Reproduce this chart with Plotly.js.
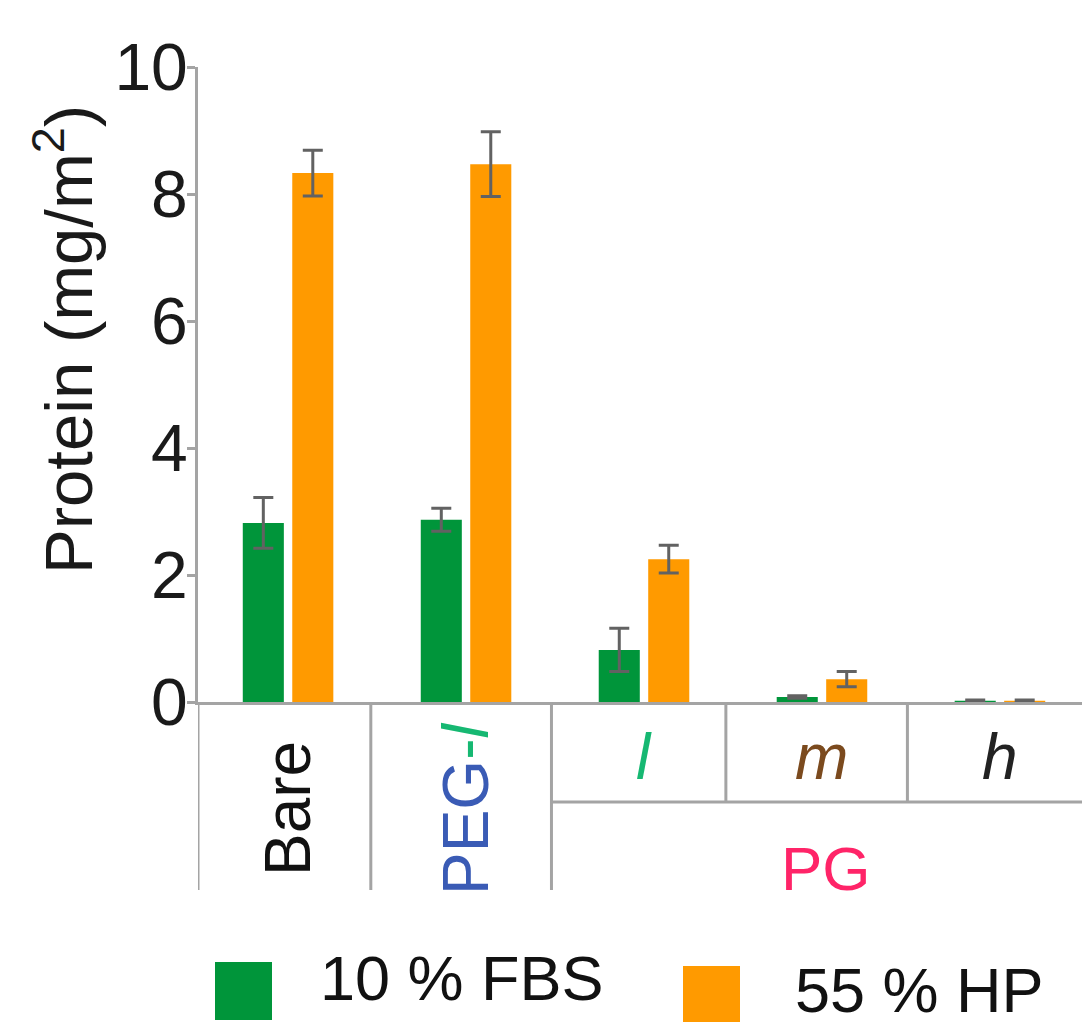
<!DOCTYPE html>
<html>
<head>
<meta charset="utf-8">
<script src="https://cdn.plot.ly/plotly-3.0.1.min.js"></script>
<style>html,body{margin:0;padding:0;background:#fff;}#chart{width:1082px;height:1024px;}</style>
</head>
<body>
<div id="chart"></div>
<script>
// ---- data ----
const categories = ['Bare', 'PEG-l', 'l', 'm', 'h'];
const categoryLabels = [
  'Bare',
  '<span style="color:#3a5bb5">PEG</span><span style="color:#16b872">-<i>l</i></span>',
  '<span style="color:#16b872"><i>l</i></span>',
  '<span style="color:#7b4a1e"><i>m</i></span>',
  '<span style="color:#222222"><i>h</i></span>'
];
const groupLabel = 'PG';
const seriesNames = ['10 % FBS', '55 % HP'];
const fbsValues = [2.82, 2.87, 0.82, 0.08, 0.02];
const fbsErrors = [0.40, 0.18, 0.34, 0.02, 0.01];
const hpValues = [8.33, 8.47, 2.25, 0.36, 0.02];
const hpErrors = [0.36, 0.51, 0.22, 0.12, 0.01];
const yTicks = [0, 2, 4, 6, 8, 10];
const yTitle = 'Protein (mg/m<sup>2</sup>)';

// ---- styling ----
const colors = ['#00953a', '#ff9a00'];
const FONT = 'Liberation Sans, Arial, Helvetica, sans-serif';
const W = 1082, H = 1024;
const M = {l: 198, r: 0, t: 67, b: 322};
const plotW = W - M.l - M.r, plotH = H - M.t - M.b;
const px = X => (X - M.l) / plotW;          // pixel x -> paper x
const py = Y => (H - M.b - Y) / plotH;      // pixel y -> paper y
const lineCol = '#a4a4a4';
const idx = categories.map((c, i) => i);

const errStyle = {type: 'data', visible: true, color: '#626262', thickness: 3, width: 10};

const traces = [
  {type: 'bar', name: seriesNames[0], x: idx, y: fbsValues,
   marker: {color: colors[0]}, error_y: Object.assign({array: fbsErrors}, errStyle)},
  {type: 'bar', name: seriesNames[1], x: idx, y: hpValues,
   marker: {color: colors[1]}, error_y: Object.assign({array: hpErrors}, errStyle)}
];

const shapes = [];
const annotations = [];
const vline = (x, y0, y1) => shapes.push({type: 'line', xref: 'x', yref: 'paper', x0: x, x1: x, y0: y0, y1: y1,
  line: {color: lineCol, width: 3}});
// separators below axis
vline(-0.506, 0, py(890));
vline(0.465, 0, py(890));
vline(1.48, 0, py(890));
vline(2.46, 0, py(802));
vline(3.48, 0, py(802));
shapes.push({type: 'line', xref: 'x', yref: 'paper', x0: 1.48, x1: 4.47, y0: py(802), y1: py(802),
  line: {color: lineCol, width: 3}});

// category labels
categories.forEach((c, i) => {
  const rotated = i < 2;
  annotations.push({
    xref: 'x', yref: 'paper', x: i, y: rotated ? py(809) : py(757),
    text: categoryLabels[i], showarrow: false, textangle: rotated ? -90 : 0,
    xanchor: 'center', yanchor: 'middle',
    font: {family: FONT, size: 64, color: '#111111'}
  });
});
annotations.push({xref: 'x', yref: 'paper', x: 3.02, y: py(868), text: groupLabel, showarrow: false,
  xanchor: 'center', yanchor: 'middle', yshift: 0,
  font: {family: FONT, size: 62, color: '#ff2468'}});

// y title
annotations.push({xref: 'paper', yref: 'paper', x: px(64), y: py(340), text: yTitle, showarrow: false,
  textangle: -90, xanchor: 'center', yanchor: 'middle', font: {family: FONT, size: 67, color: '#1a1a1a'}});

// legend (custom, large swatches)
const legendPos = [{x0: 215, x1: 272, y0: 962, y1: 1020, tx: 318, ty: 978},
                   {x0: 683, x1: 740, y0: 966, y1: 1022, tx: 793, ty: 990}];
seriesNames.forEach((n, i) => {
  const p = legendPos[i];
  shapes.push({type: 'rect', xref: 'paper', yref: 'paper', x0: px(p.x0), x1: px(p.x1), y0: py(p.y0), y1: py(p.y1),
    fillcolor: colors[i], line: {width: 0}});
  annotations.push({xref: 'paper', yref: 'paper', x: px(p.tx), y: py(p.ty), text: n, showarrow: false,
    xanchor: 'left', yanchor: 'middle', font: {family: FONT, size: 63, color: '#111111'}});
});

const layout = {
  width: W, height: H,
  margin: M,
  paper_bgcolor: '#ffffff', plot_bgcolor: '#ffffff',
  showlegend: false,
  barmode: 'group', bargap: 0.444, bargroupgap: 0.17,
  xaxis: {range: [-0.506, 4.461], showticklabels: false, ticks: '', showgrid: false, zeroline: false,
    showline: true, linecolor: lineCol, linewidth: 3, fixedrange: true},
  yaxis: {range: [0, 10], tickvals: yTicks, ticktext: yTicks.map(String), ticks: 'outside', ticklen: 8,
    tickwidth: 3, tickcolor: lineCol, showgrid: false, zeroline: false, showline: true, linecolor: lineCol,
    linewidth: 3, ticklabelstandoff: -14, tickfont: {family: FONT, size: 66, color: '#1a1a1a'}, fixedrange: true},
  shapes: shapes,
  annotations: annotations
};

Plotly.newPlot('chart', traces, layout, {displayModeBar: false, staticPlot: true});
</script>
</body>
</html>
